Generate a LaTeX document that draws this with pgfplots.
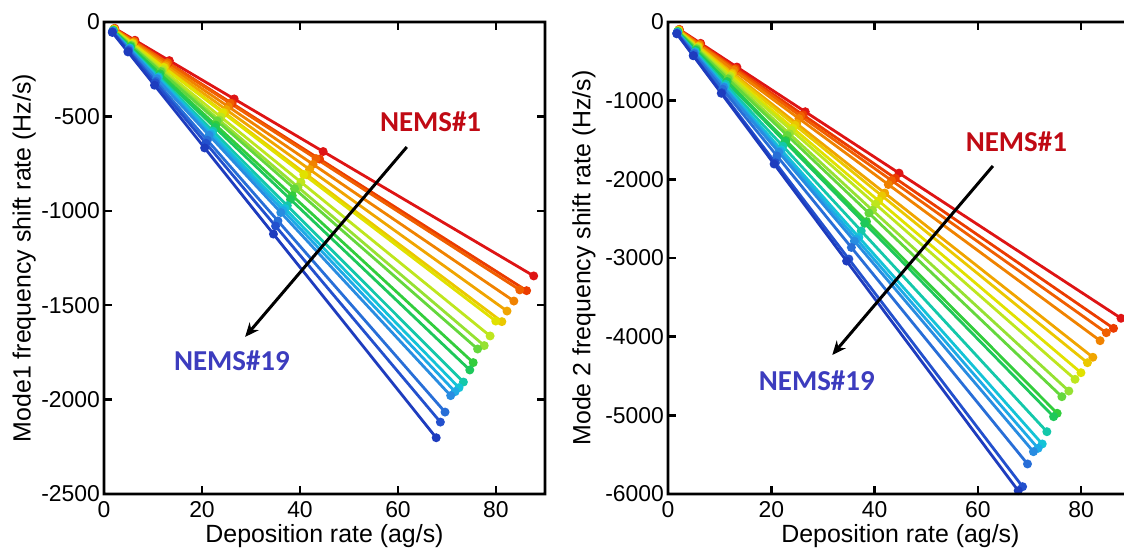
\documentclass[border=0pt]{standalone}
\usepackage{pgfplots}
\pgfplotsset{compat=1.18}
\usetikzlibrary{arrows.meta}
\usepackage{fontspec}
\setmainfont{Liberation Sans}
\newfontfamily\calib{Carlito}
\definecolor{c1}{RGB}{222,20,20}
\definecolor{c2}{RGB}{235,60,0}
\definecolor{c3}{RGB}{240,95,0}
\definecolor{c4}{RGB}{240,130,0}
\definecolor{c5}{RGB}{240,165,0}
\definecolor{c6}{RGB}{235,200,0}
\definecolor{c7}{RGB}{225,225,0}
\definecolor{c8}{RGB}{190,230,30}
\definecolor{c9}{RGB}{150,225,50}
\definecolor{c10}{RGB}{100,215,60}
\definecolor{c11}{RGB}{50,205,60}
\definecolor{c12}{RGB}{30,200,90}
\definecolor{c13}{RGB}{20,200,170}
\definecolor{c14}{RGB}{20,195,215}
\definecolor{c15}{RGB}{30,170,230}
\definecolor{c16}{RGB}{40,140,225}
\definecolor{c17}{RGB}{40,110,215}
\definecolor{c18}{RGB}{35,80,205}
\definecolor{c19}{RGB}{30,60,190}
\definecolor{nemsred}{RGB}{192,10,20}
\definecolor{nemsblue}{RGB}{60,60,190}
\pgfplotsset{
  base/.style={
    scale only axis, height=236bp, xmin=0, xmax=90,
    xtick={0,20,40,60,80},
    tick align=inside, major tick length=3.5bp,
    axis line style={draw=black, line width=1.4bp},
    major tick style={draw=black, line width=1.2bp},
    tick label style={font=\fontsize{11.5}{11.5}\selectfont},
    yticklabel style={xshift=1.5bp},
    label style={font=\fontsize{12.5}{13}\selectfont},
    xlabel={Deposition rate (ag/s)},
    xlabel style={at={(axis description cs:0.5,-0.089)}, anchor=center},
    ylabel style={at={(axis description cs:-0.181,0.5)}, anchor=center, rotate=0},
    clip=false,
  },
  ln/.style={#1, line width=1.4bp, mark=*, mark size=1.5bp, mark options={solid, fill=#1, draw=#1}},
}
\begin{document}
\begin{tikzpicture}
\begin{axis}[base, at={(52bp,27.5bp)}, width=220.5bp,
  ymin=-2500, ymax=0, ytick={0,-500,-1000,-1500,-2000,-2500},
  yticklabels={0,-500,-1000,-1500,-2000,-2500},
  xticklabels={0,20,40,60,80},
  ylabel={Mode1 frequency shift rate (Hz/s)}]
\addplot[ln=c1] coordinates {(2.19,-33.6)(6.31,-96.8)(13.33,-204.5)(26.57,-407.6)(44.73,-686.1)(87.7,-1345)};
\addplot[ln=c2] coordinates {(2.16,-35.6)(6.21,-102.5)(13.11,-216.3)(26.13,-431.1)(43.99,-725.8)(86.25,-1423)};
\addplot[ln=c3] coordinates {(2.12,-35.4)(6.11,-102.2)(12.90,-215.7)(25.71,-429.9)(43.27,-723.5)(84.85,-1419)};
\addplot[ln=c4] coordinates {(2.09,-36.9)(6.02,-106.4)(12.71,-224.6)(25.35,-447.9)(42.66,-753.8)(83.65,-1478)};
\addplot[ln=c5] coordinates {(2.06,-38.3)(5.92,-110.2)(12.50,-232.6)(24.92,-463.8)(41.95,-780.7)(82.25,-1531)};
\addplot[ln=c6] coordinates {(2.03,-39.7)(5.85,-114.3)(12.34,-241.1)(24.60,-480.7)(41.41,-809.2)(81.2,-1587)};
\addplot[ln=c7] coordinates {(2.00,-39.6)(5.76,-114.1)(12.15,-240.7)(24.22,-479.8)(40.77,-807.7)(79.95,-1584)};
\addplot[ln=c8] coordinates {(1.97,-41.6)(5.67,-119.6)(11.98,-252.8)(23.88,-503.9)(40.19,-848.0)(78.8,-1663)};
\addplot[ln=c9] coordinates {(1.94,-42.9)(5.59,-123.5)(11.80,-260.7)(23.51,-519.3)(39.58,-874.3)(77.6,-1714)};
\addplot[ln=c10] coordinates {(1.91,-43.4)(5.49,-124.7)(11.59,-263.2)(23.10,-524.6)(38.89,-883.2)(76.25,-1732)};
\addplot[ln=c11] coordinates {(1.88,-45.0)(5.43,-130.0)(11.45,-274.1)(22.83,-546.5)(38.43,-920.0)(75.35,-1804)};
\addplot[ln=c12] coordinates {(1.87,-46.2)(5.37,-132.6)(11.35,-280.2)(22.62,-558.5)(38.07,-940.0)(74.65,-1843)};
\addplot[ln=c13] coordinates {(1.83,-47.6)(5.28,-137.3)(11.15,-289.9)(22.23,-578.0)(37.41,-972.7)(73.35,-1907)};
\addplot[ln=c14] coordinates {(1.81,-48.4)(5.22,-139.6)(11.01,-294.4)(21.95,-586.9)(36.95,-988.0)(72.45,-1937)};
\addplot[ln=c15] coordinates {(1.79,-48.9)(5.16,-141.0)(10.89,-297.6)(21.71,-593.3)(36.54,-998.6)(71.65,-1958)};
\addplot[ln=c16] coordinates {(1.77,-49.5)(5.09,-142.4)(10.75,-300.7)(21.44,-599.7)(36.08,-1009.2)(70.75,-1979)};
\addplot[ln=c17] coordinates {(1.74,-51.6)(5.01,-148.7)(10.58,-314.0)(21.09,-626.0)(35.50,-1053.6)(69.6,-2066)};
\addplot[ln=c18] coordinates {(1.72,-53.1)(4.94,-152.5)(10.43,-322.0)(20.80,-642.1)(35.01,-1080.8)(68.65,-2119)};
\addplot[ln=c19] coordinates {(1.70,-55.2)(4.88,-158.5)(10.31,-334.9)(20.54,-667.1)(34.58,-1123.2)(67.8,-2202)};
\node[anchor=west, text=nemsred, font=\calib\bfseries\fontsize{14.5}{15}\selectfont] at (axis cs:54.9,-530) {NEMS\#1};
\node[text=nemsblue, font=\calib\bfseries\fontsize{14.5}{15}\selectfont] at (axis cs:26.1,-1796) {NEMS\#19};
\draw[-{Stealth[length=7bp,width=6bp]}, line width=1.5bp, black] (axis cs:61.8,-662) -- (axis cs:28.8,-1668);
\end{axis}
\begin{axis}[base, at={(334bp,27.5bp)}, width=232.45bp,
  ymin=-6000, ymax=0, ytick={0,-1000,-2000,-3000,-4000,-5000,-6000},
  yticklabels={0,-1000,-2000,-3000,-4000,-5000,-6000},
  xticklabels={0,20,40,60,80},
  ylabel={Mode 2 frequency shift rate (Hz/s)}]
\addplot[ln=c1] coordinates {(2.19,-94.0)(6.31,-271.0)(13.33,-572.4)(26.57,-1141)(44.73,-1921)(87.7,-3766)};
\addplot[ln=c2] coordinates {(2.16,-97.5)(6.21,-280.4)(13.11,-591.9)(26.13,-1179.8)(43.99,-1986)(86.25,-3894)};
\addplot[ln=c3] coordinates {(2.12,-98.7)(6.11,-284.4)(12.90,-600.5)(25.71,-1196.8)(43.27,-2014)(84.85,-3950)};
\addplot[ln=c4] coordinates {(2.09,-101.2)(6.02,-291.5)(12.71,-615.5)(25.35,-1227.7)(42.66,-2066)(83.65,-4051)};
\addplot[ln=c5] coordinates {(2.06,-106.7)(5.92,-306.8)(12.50,-647.8)(24.92,-1291.4)(41.95,-2174)(82.25,-4262)};
\addplot[ln=c6] coordinates {(2.03,-108.3)(5.85,-312.0)(12.34,-658.2)(24.60,-1312.2)(41.41,-2209)(81.2,-4331)};
\addplot[ln=c7] coordinates {(2.00,-111.5)(5.76,-321.2)(12.15,-677.5)(24.22,-1350.5)(40.77,-2273)(79.95,-4458)};
\addplot[ln=c8] coordinates {(1.97,-113.6)(5.67,-326.8)(11.98,-690.5)(23.88,-1376.4)(40.19,-2317)(78.8,-4542)};
\addplot[ln=c9] coordinates {(1.94,-117.3)(5.59,-337.9)(11.80,-713.3)(23.51,-1421.2)(39.58,-2393)(77.6,-4691)};
\addplot[ln=c10] coordinates {(1.91,-119.3)(5.49,-343.0)(11.59,-724.0)(23.10,-1443.1)(38.89,-2429)(76.25,-4763)};
\addplot[ln=c11] coordinates {(1.88,-124.1)(5.43,-358.4)(11.45,-755.8)(22.83,-1507.0)(38.43,-2537)(75.35,-4974)};
\addplot[ln=c12] coordinates {(1.87,-125.7)(5.37,-360.9)(11.35,-762.8)(22.62,-1520.3)(38.07,-2559)(74.65,-5017)};
\addplot[ln=c13] coordinates {(1.83,-129.9)(5.28,-374.9)(11.15,-791.7)(22.23,-1578.3)(37.41,-2656)(73.35,-5208)};
\addplot[ln=c14] coordinates {(1.81,-134.0)(5.22,-386.5)(11.01,-815.2)(21.95,-1625.2)(36.95,-2736)(72.45,-5364)};
\addplot[ln=c15] coordinates {(1.79,-135.4)(5.16,-390.3)(10.89,-823.6)(21.71,-1641.9)(36.54,-2763)(71.65,-5419)};
\addplot[ln=c16] coordinates {(1.77,-136.6)(5.09,-392.9)(10.75,-829.9)(21.44,-1655.2)(36.08,-2785)(70.75,-5462)};
\addplot[ln=c17] coordinates {(1.74,-140.5)(5.01,-404.4)(10.58,-854.0)(21.09,-1702.4)(35.50,-2866)(69.6,-5618)};
\addplot[ln=c18] coordinates {(1.72,-148.0)(4.94,-425.1)(10.43,-897.5)(20.80,-1789.8)(35.01,-3013)(68.65,-5907)};
\addplot[ln=c19] coordinates {(1.70,-149.4)(4.88,-428.9)(10.31,-906.0)(20.54,-1805.1)(34.58,-3039)(67.8,-5958)};
\node[anchor=west, text=nemsred, font=\calib\bfseries\fontsize{14.5}{15}\selectfont] at (axis cs:56.3,-1525) {NEMS\#1};
\node[text=nemsblue, font=\calib\bfseries\fontsize{14.5}{15}\selectfont] at (axis cs:28.8,-4563) {NEMS\#19};
\draw[-{Stealth[length=7bp,width=6bp]}, line width=1.5bp, black] (axis cs:62.9,-1830) -- (axis cs:31.8,-4233);
\end{axis}
% frames and ticks as filled shapes
\fill[black, even odd rule] (51.3bp,26.8bp) rectangle (273.2bp,264.2bp) (52.7bp,28.2bp) rectangle (271.8bp,262.8bp);
\foreach \x in {101,150,199,248} {
  \fill[black] (\x bp-0.6bp,27.5bp) rectangle (\x bp+0.6bp,31.5bp);
  \fill[black] (\x bp-0.6bp,263.5bp) rectangle (\x bp+0.6bp,259.5bp);
}
\foreach \y in {216.3,169.1,121.9,74.7} {
  \fill[black] (52bp,\y bp-0.6bp) rectangle (56bp,\y bp+0.6bp);
  \fill[black] (272.5bp,\y bp-0.6bp) rectangle (268.5bp,\y bp+0.6bp);
}
\fill[black, even odd rule] (333.3bp,26.8bp) rectangle (567.15bp,264.2bp) (334.7bp,28.2bp) rectangle (565.75bp,262.8bp);
\foreach \x in {385.66,437.31,488.97,540.62} {
  \fill[black] (\x bp-0.6bp,27.5bp) rectangle (\x bp+0.6bp,31.5bp);
  \fill[black] (\x bp-0.6bp,263.5bp) rectangle (\x bp+0.6bp,259.5bp);
}
\foreach \y in {224.17,184.83,145.5,106.17,66.83} {
  \fill[black] (334bp,\y bp-0.6bp) rectangle (338bp,\y bp+0.6bp);
}
\pgfresetboundingbox
\useasboundingbox (0,0) rectangle (562bp,274.5bp);
\end{tikzpicture}
\end{document}
